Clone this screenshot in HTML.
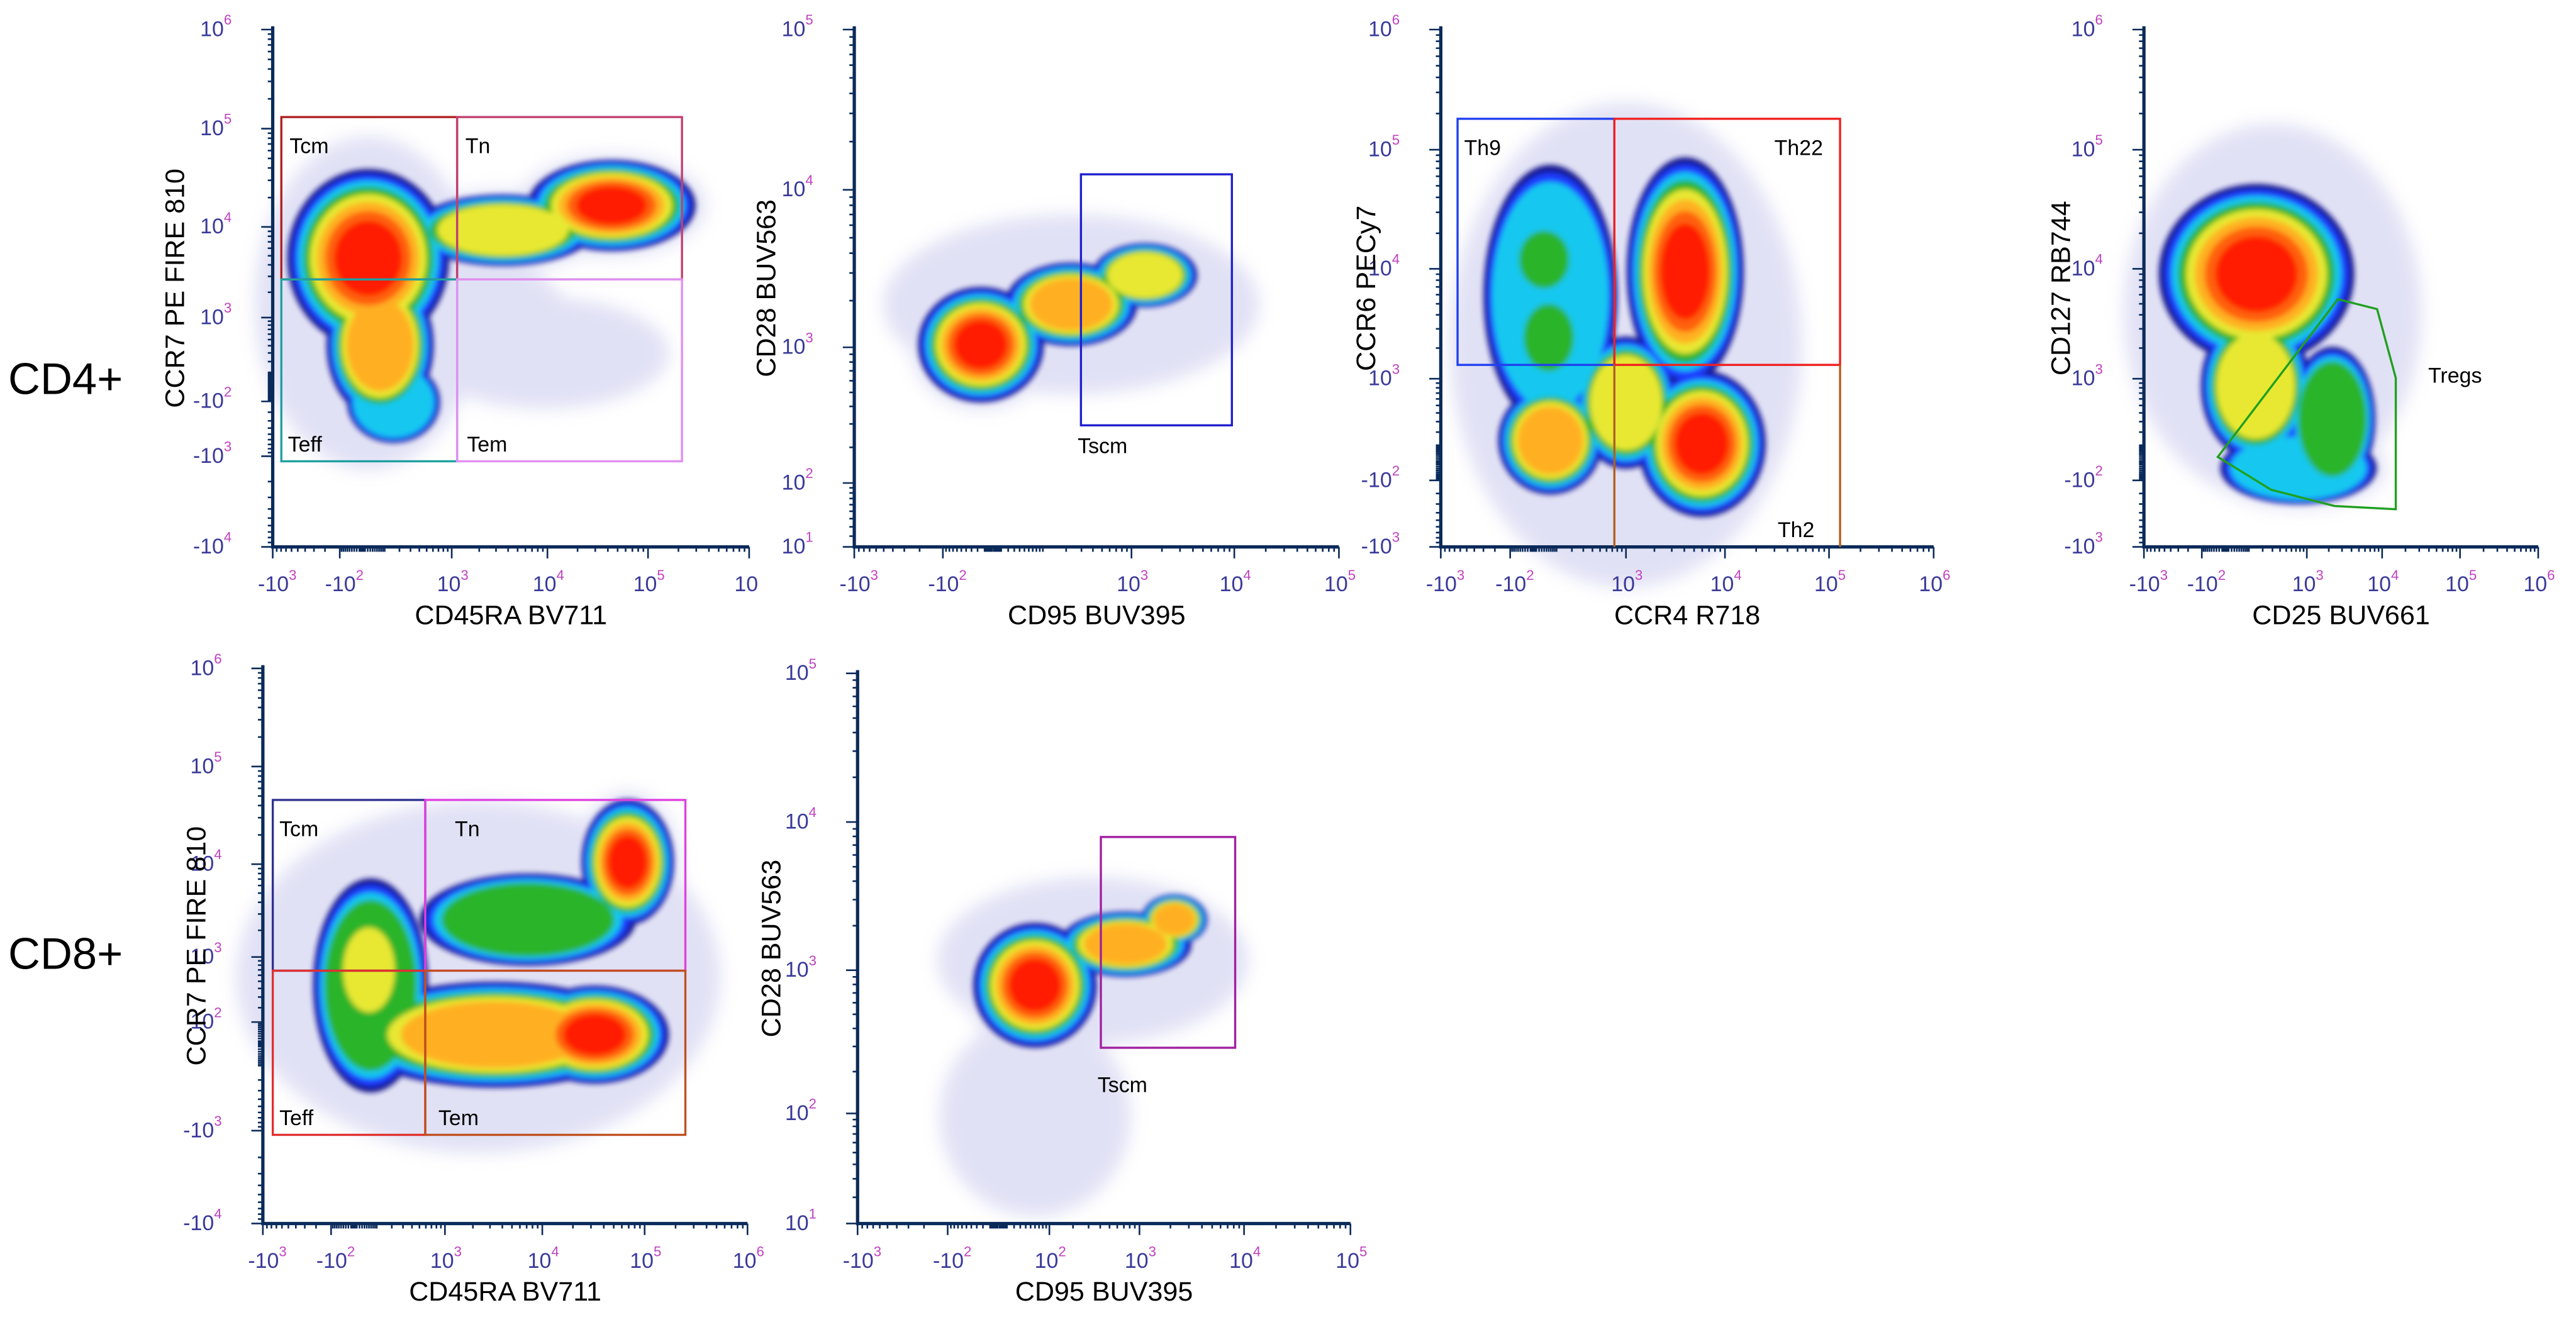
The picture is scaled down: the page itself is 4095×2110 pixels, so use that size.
<!DOCTYPE html>
<html><head><meta charset="utf-8">
<style>
html,body{margin:0;padding:0;background:#fff;}
svg{display:block;}
text{font-family:"Liberation Sans",sans-serif;}
</style></head>
<body>
<svg id="fig" xmlns="http://www.w3.org/2000/svg" width="4095" height="2110" viewBox="0 0 1568 808" preserveAspectRatio="none">
<defs>
<filter id="blur" x="-20%" y="-20%" width="140%" height="140%"><feGaussianBlur stdDeviation="1.6"/></filter>
<filter id="blurH" x="-30%" y="-30%" width="160%" height="160%"><feGaussianBlur stdDeviation="5"/></filter>
</defs>
<text x="5" y="240" font-size="27" fill="#000">CD4+</text>
<text x="5" y="590" font-size="27" fill="#000">CD8+</text>
</svg>
<script>
// ---------- data ----------
// clusters: [xValue, yValue, xSpreadDecades, ySpreadDecades, peakLevel]
const a1Clusters=[[22,1500,1.0,1.5,0],[9300,297,1.1,0.5,0],[2840,700,0.7,0.6,0],[156,-107,0.46,0.41,3],[75,410,0.53,0.74,6],[3530,9250,0.9,0.36,5],[22,4700,0.8,0.9,8],[43600,16600,0.83,0.46,8]];
const a2Clusters=[[229,1895,1.6,0.5,0],[1360,2900,0.5,0.2,5],[229,1895,0.63,0.26,6],[-15,1040,0.6,0.36,8]];
const a3Clusters=[[1000,2130,1.5,1.8,0],[68,5850,0.64,1.09,3],[40,12000,0.3,0.3,4],[60,2500,0.3,0.35,4],[1000,540,0.48,0.55,5],[68,134,0.5,0.45,6],[4080,9480,0.56,0.95,8],[5960,111,0.61,0.61,8]];
const a4Clusters=[[303,4200,1.7,1.4,0],[760,-27,1.0,0.3,3],[2240,328,0.55,0.6,4],[143,835,0.7,0.61,5],[150,9000,1.25,0.75,8]];
const a5Clusters=[[2270,567,2.1,1.6,0],[68,440,0.56,1.09,4],[60,700,0.35,0.6,5],[7200,2610,1.05,0.47,4],[3360,36,1.45,0.54,6],[32700,36,0.72,0.5,8],[68400,10500,0.45,0.64,8]];
const a6Clusters=[[60,95,0.8,0.6,0],[332,1165,1.3,0.5,0],[2180,2200,0.31,0.17,6],[725,1500,0.62,0.22,6],[60,790,0.58,0.42,8]];
// gates: [label, x0, x1, y0, y1, color]
const a1Gates=[["Tcm",-795,1150,2780,131000,"#b02020"],["Tn",1150,216800,2780,131000,"#c04070"],["Teff",-795,1150,-1155,2780,"#20a0a0"],["Tem",1150,216800,-1155,2780,"#e090f0"]];
const a2Gates=[["Tscm",296,9480,293,12500,"#2020d0"]];
const a3Gates=[["Th9",-645,741,1380,181000,"#2040f0"],["Th22",741,127500,1380,181000,"#f02020"]];
const a5Gates=[["Tcm",-771,590,684,45600,"#303090"],["Tn",590,249000,684,45600,"#e040e0"],["Teff",-771,590,-1118,684,"#e03030"],["Tem",590,249000,-1118,684,"#c05020"]];
const a6Gates=[["Tscm",406,8250,294,7930,"#a020a0"]];
const a4TregX=[-25,2640,8610,15000,15000,2380,283];
const a4TregY=[30,5480,4490,1017,-358,-321,-168];
// tick values
const t1x=[-1e3,-1e2,1e3,1e4,1e5,1e6], t1y=[-1e4,-1e3,-1e2,1e3,1e4,1e5,1e6];
const t2x=[-1e3,-1e2,1e3,1e4,1e5], t2y=[10,100,1e3,1e4,1e5];
const t3x=[-1e3,-1e2,1e3,1e4,1e5,1e6], t3y=[-1e3,-1e2,1e3,1e4,1e5,1e6];
const t5x=[-1e3,-1e2,1e3,1e4,1e5,1e6], t5y=[-1e4,-1e3,1e2,1e3,1e4,1e5,1e6];
const t6x=[-1e3,-1e2,1e2,1e3,1e4,1e5], t6y=[10,100,1e3,1e4,1e5];

// ---------- drawing ----------
const NS="http://www.w3.org/2000/svg";
const svg=document.getElementById('fig');
function el(tag,attrs,parent){const e=document.createElementNS(NS,tag);for(const k in attrs)e.setAttribute(k,attrs[k]);(parent||svg).appendChild(e);return e;}
function fT(v,c){return Math.sign(v)*Math.log10(1+Math.abs(v)/c);}
function makeAxis(d0,d1,c,p0,p1){const f0=fT(d0,c),f1=fT(d1,c);const fn=v=>p0+(fT(v,c)-f0)/(f1-f0)*(p1-p0);fn.unit=Math.abs((p1-p0)/(f1-f0));fn.d0=d0;fn.d1=d1;return fn;}
const levelColors=["#c4c4ec","#14148c","#1e3cff","#18c8f0","#2cb42c","#e8e830","#ffb020","#ff6010","#ff1a00"];
const levelScale=[1.12,1.0,0.94,0.87,0.8,0.72,0.63,0.53,0.42];

function labelText(v){
  const neg=v<0;const e=Math.round(Math.log10(Math.abs(v)));
  return {base:(neg?"-":"")+"10",exp:String(e)};
}
function drawPanel(id,X,Y,xt,yt,clusters,gates,xTitle,yTitle,opts){
  const g=el('g',{});
  
  
  const x0=X(X.d0),x1=X(X.d1),y0=Y(Y.d0),y1=Y(Y.d1);
  const hg=el('g',{filter:'url(#blurH)',opacity:0.5},g);
  
  
  const dg=el('g',{filter:'url(#blur)'},g);
  
  
  for(let k=0;k<levelColors.length;k++){
    clusters.forEach(c=>{
      if(c[4]<k)return;
      const e=el('ellipse',{cx:X(c[0]),cy:Y(c[1]),rx:c[2]*X.unit*levelScale[k],ry:c[3]*Y.unit*levelScale[k],fill:levelColors[k]},k==0?hg:dg);
      
      
    });
  }
  gates.forEach(gt=>{
    const r=el('rect',{x:X(gt[1]),y:Y(gt[4]),width:X(gt[2])-X(gt[1]),height:Y(gt[3])-Y(gt[4]),fill:'none',stroke:gt[5],'stroke-width':1.3},g);
    
    
  });
  const ax=el('path',{d:`M${x0},${y1-2}V${y0}H${x1}`,fill:'none',stroke:'#0a2a5a','stroke-width':2},g);
  
  
  let d='';
  const mins=[];
  for(let dec=0;dec<6;dec++)for(let m=1;m<10;m++){const v=m*Math.pow(10,dec);mins.push(v,-v);}
  mins.forEach(v=>{
    if(v>X.d0&&v<X.d1){const p=X(v);d+=`M${p},${y0}v3`;}
    if(v>Y.d0&&v<Y.d1){const p=Y(v);d+=`M${x0},${p}h-3`;}
  });
  xt.forEach(v=>{const p=X(v);d+=`M${p},${y0}v7`;});
  yt.forEach(v=>{const p=Y(v);d+=`M${x0},${p}h-7`;});
  const tk=el('path',{d:d,stroke:'#0a2a5a','stroke-width':1,fill:'none'},g);
  
  
  xt.forEach((v,i)=>{
    const lt=labelText(v);
    const t=el('text',{x:X(v)-9,y:y0+27,'font-size':13,fill:'#3a3a9a'},g);
    
    
    t.textContent=lt.base;
    if(!(opts&&opts.cutLast&&i==xt.length-1)){const s=el('tspan',{dy:-7,'font-size':8.5,fill:'#c040c0'},t);s.textContent=lt.exp;}
  });
  yt.forEach(v=>{
    const lt=labelText(v);
    const t=el('text',{x:x0-25,y:Y(v)+4,'font-size':13,fill:'#3a3a9a','text-anchor':'end'},g);
    
    
    t.textContent=lt.base;
    const s=el('tspan',{dy:-7,'font-size':8.5,fill:'#c040c0'},t);s.textContent=lt.exp;
  });
  const xtT=el('text',{x:(x0+x1)/2,y:y0+47,'font-size':16.5,'text-anchor':'middle',fill:'#000'},g);
  
  
  xtT.textContent=xTitle;
  const ytx=opts.yTitleX, yty=(y0+y1)/2;
  const ytT=el('text',{x:ytx,y:yty,'font-size':16.5,'text-anchor':'middle',fill:'#000',transform:`rotate(-90 ${ytx} ${yty})`},g);
  
  
  ytT.textContent=yTitle;
  return g;
}
function gateLabel(txt,x,y,g){const t=el('text',{x:x,y:y,'font-size':13,fill:'#000'},g);
  
  
  t.textContent=txt;}

// Panel 1
let X=makeAxis(-1e3,1e6,150,166,456),Y=makeAxis(-1e4,1e6,250,333,18);
let g=drawPanel('cd4-ccr7-cd45ra',X,Y,t1x,t1y,a1Clusters,a1Gates,'CD45RA BV711','CCR7 PE FIRE 810',{yTitleX:112,cutLast:true});
gateLabel('Tcm',X(-795)+5,Y(131000)+22,g);gateLabel('Tn',X(1150)+5,Y(131000)+22,g);
gateLabel('Teff',X(-795)+4,Y(-1155)-6,g);gateLabel('Tem',X(1150)+6,Y(-1155)-6,g);
// Panel 2
X=makeAxis(-1e3,1e5,50,520,815);Y=makeAxis(10,1e5,50,333,18);
g=drawPanel('cd4-cd28-cd95',X,Y,t2x,t2y,a2Clusters,a2Gates,'CD95 BUV395','CD28 BUV563',{yTitleX:472});
gateLabel('Tscm',X(296)-2,Y(293)+17,g);
// Panel 3
X=makeAxis(-1e3,1e6,150,877,1177);Y=makeAxis(-1e3,1e6,250,333,18);
g=drawPanel('cd4-ccr6-ccr4',X,Y,t3x,t3y,a3Clusters,a3Gates,'CCR4 R718','CCR6 PECy7',{yTitleX:837});
let th2=el('path',{d:`M${X(741)},${Y(1380)}V${Y(-1e3)}M${X(127500)},${Y(1380)}V${Y(-1e3)}`,stroke:'#b06020','stroke-width':1.3,fill:'none'},g);


gateLabel('Th9',X(-645)+4,Y(181000)+22,g);gateLabel('Th22',X(127500)-40,Y(181000)+22,g);gateLabel('Th2',X(127500)-38,Y(-1e3)-6,g);
// Panel 4
X=makeAxis(-1e3,1e6,100,1305,1545);Y=makeAxis(-1e3,1e6,250,333,18);
g=drawPanel('cd4-cd127-cd25',X,Y,t3x,t3y,a4Clusters,[],'CD25 BUV661','CD127 RB744',{yTitleX:1260});
let pts=a4TregX.map((v,i)=>X(v)+','+Y(a4TregY[i])).join(' ');
let pg=el('polygon',{points:pts,fill:'none',stroke:'#20a020','stroke-width':1.3},g);


gateLabel('Tregs',1478,233,g);
// Panel 5
X=makeAxis(-1e3,1e6,150,160,455);Y=makeAxis(-1e4,1e6,150,745,407);
g=drawPanel('cd8-ccr7-cd45ra',X,Y,t5x,t5y,a5Clusters,a5Gates,'CD45RA BV711','CCR7 PE FIRE 810',{yTitleX:125});
gateLabel('Tcm',X(-771)+4,Y(45600)+22,g);gateLabel('Tn',X(590)+18,Y(45600)+22,g);
gateLabel('Teff',X(-771)+4,Y(-1118)-6,g);gateLabel('Tem',X(590)+8,Y(-1118)-6,g);
// Panel 6
X=makeAxis(-1e3,1e5,50,522,822);Y=makeAxis(10,1e5,10,745,410);
g=drawPanel('cd8-cd28-cd95',X,Y,t6x,t6y,a6Clusters,a6Gates,'CD95 BUV395','CD28 BUV563',{yTitleX:475});
gateLabel('Tscm',X(406)-2,Y(294)+27,g);
</script>
</body></html>
